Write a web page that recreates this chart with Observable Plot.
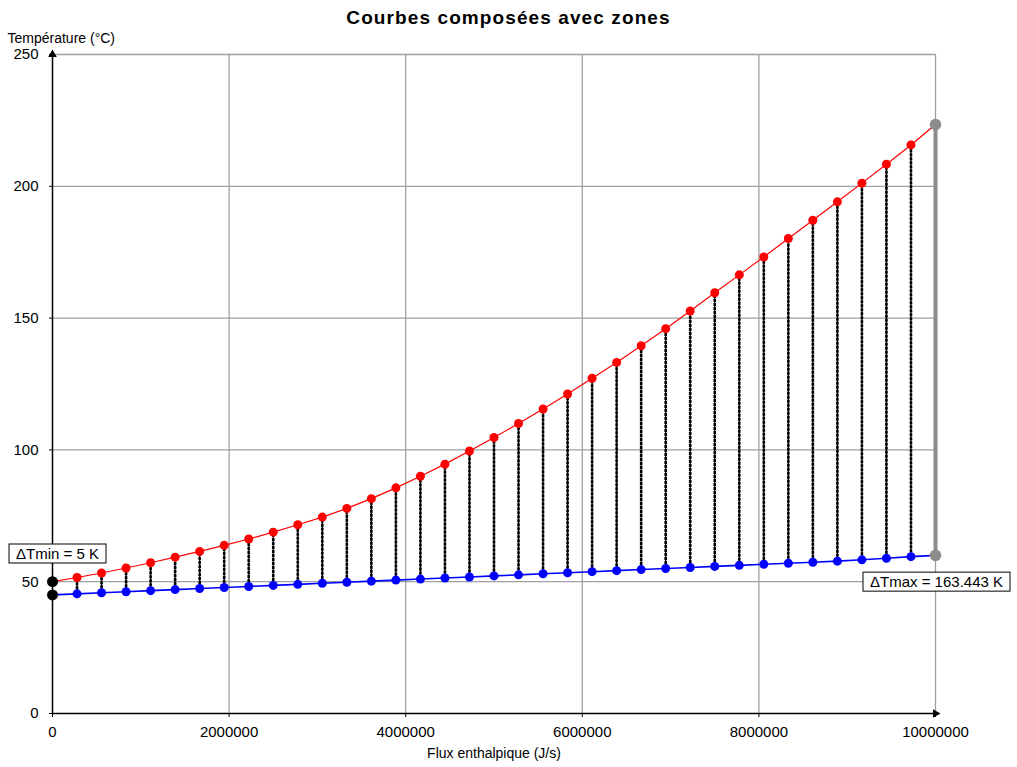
<!DOCTYPE html>
<html>
<head>
<meta charset="utf-8">
<script src="https://cdn.jsdelivr.net/npm/d3@7"></script>
<script src="https://cdn.jsdelivr.net/npm/@observablehq/plot@0.6"></script>
<style>
  html, body { margin: 0; padding: 0; background: #fff; }
  #wrap { width: 1017px; font-family: "Liberation Sans", Arial, sans-serif; }
  #title { position: relative; height: 30px; }
  #title div { position: absolute; top: 8px; left: 0; width: 100%; text-align: center;
    font-weight: bold; font-size: 19px; line-height: 19px; letter-spacing: 1.1px; color: #000; }
</style>
</head>
<body>
<div id="wrap">
  <div id="title"><div>Courbes composées avec zones</div></div>
  <div id="chart"></div>
</div>
<script>
const titleText = "Courbes composées avec zones";
const xLabel = "Flux enthalpique (J/s)";
const yLabel = "Température (°C)";
const xTicks = [0, 2000000, 4000000, 6000000, 8000000, 10000000];
const yTicks = [0, 50, 100, 150, 200, 250];

// Flux enthalpique (J/s) at each node
const flux = [0, 277778, 555556, 833333, 1111111, 1388889, 1666667, 1944444, 2222222,
  2500000, 2777778, 3055556, 3333333, 3611111, 3888889, 4166667, 4444444, 4722222,
  5000000, 5277778, 5555556, 5833333, 6111111, 6388889, 6666667, 6944444, 7222222,
  7500000, 7777778, 8055556, 8333333, 8611111, 8888889, 9166667, 9444444, 9722222, 10000000];

// Hot composite curve (red)
const hot = [50, 51.6, 53.3, 55.2, 57.2, 59.3, 61.5, 63.8, 66.2, 68.8, 71.6, 74.5,
  77.8, 81.5, 85.6, 90.0, 94.6, 99.6, 104.7, 110.0, 115.5, 121.2, 127.2, 133.2,
  139.5, 146.0, 152.7, 159.6, 166.4, 173.2, 180.2, 187.1, 194.1, 201.2, 208.4, 215.7, 223.443];

// Cold composite curve (blue)
const cold = [45.0, 45.4, 45.8, 46.2, 46.6, 47.0, 47.4, 47.8, 48.2, 48.6, 49.0, 49.4,
  49.8, 50.2, 50.6, 51.0, 51.4, 51.8, 52.2, 52.6, 53.0, 53.4, 53.8, 54.2,
  54.6, 55.0, 55.4, 55.8, 56.2, 56.6, 57.0, 57.4, 57.8, 58.3, 58.9, 59.5, 60.0];

const dTminLabel = "ΔTmin = 5 K";
const dTmaxLabel = "ΔTmax = 163.443 K";

const rows = flux.map((f, i) => ({flux: f, hot: hot[i], cold: cold[i]}));
const first = rows[0];
const last = rows[rows.length - 1];
const inner = rows.slice(1, -1);
const xMax = xTicks[xTicks.length - 1];
const yMax = yTicks[yTicks.length - 1];

const font = "Liberation Sans, Arial, sans-serif";

const chart = Plot.plot({
  width: 1017,
  height: 737,
  marginTop: 24,
  marginBottom: 54,
  marginLeft: 52,
  marginRight: 82,
  style: {fontFamily: font, fontSize: "15px", color: "#000", background: "#fff", overflow: "visible"},
  x: {domain: [0, xMax]},
  y: {domain: [0, yMax]},
  marks: [
    // grid
    Plot.ruleY(yTicks.slice(1), {stroke: "#a0a0a0", strokeWidth: 1.3}),
    Plot.ruleX(xTicks.slice(1), {stroke: "#a0a0a0", strokeWidth: 1.3}),
    // axes
    Plot.axisX({ticks: xTicks, tickFormat: d => String(d), tickSize: 4, tickPadding: 9,
      fontSize: 15, label: null, stroke: "#000"}),
    Plot.axisY({ticks: yTicks, tickFormat: d => String(d), tickSize: 3, tickPadding: 11,
      fontSize: 15, label: null}),
    Plot.ruleY([0], {stroke: "#000", strokeWidth: 1.5}),
    Plot.ruleX([0], {stroke: "#000", strokeWidth: 1.5}),
    Plot.dot([{x: 0, y: yMax}], {x: "x", y: "y", symbol: "triangle", r: 3.2, fill: "#000"}),
    Plot.dot([{x: xMax, y: 0}], {x: "x", y: "y", symbol: "triangle", r: 3.2, fill: "#000", rotate: 90}),
    // axis labels
    Plot.text([yLabel], {frameAnchor: "top-left", dx: -45, dy: -16, textAnchor: "start",
      lineAnchor: "middle", fontSize: 14, fill: "#000"}),
    Plot.text([xLabel], {frameAnchor: "bottom", dy: 40, lineAnchor: "middle", fontSize: 14, fill: "#000"}),
    // vertical zone lines
    Plot.ruleX(inner, {x: "flux", y1: "cold", y2: "hot", stroke: "#000", strokeWidth: 1.2}),
    Plot.ruleX(inner, {x: "flux", y1: "cold", y2: "hot", stroke: "#000", strokeWidth: 2.6, strokeDasharray: "3,1"}),
    Plot.ruleX([last], {x: "flux", y1: "cold", y2: "hot", stroke: "#8c8c8c", strokeWidth: 4}),
    // curves
    Plot.line(rows, {x: "flux", y: "hot", stroke: "#ff0000", strokeWidth: 1.2}),
    Plot.line(rows, {x: "flux", y: "cold", stroke: "#0000ff", strokeWidth: 1.6}),
    Plot.dot(inner, {x: "flux", y: "hot", r: 4.5, fill: "#ff0000"}),
    Plot.dot(inner, {x: "flux", y: "cold", r: 4.5, fill: "#0000ff"}),
    Plot.dot([first], {x: "flux", y: "hot", r: 5.5, fill: "#000"}),
    Plot.dot([first], {x: "flux", y: "cold", r: 5.5, fill: "#000"}),
    Plot.dot([last], {x: "flux", y: "hot", r: 5.8, fill: "#8c8c8c"}),
    Plot.dot([last], {x: "flux", y: "cold", r: 5.8, fill: "#8c8c8c"}),
    // annotations
    Plot.text([first], {x: "flux", y: "hot", text: () => dTminLabel, dx: 5, dy: -27.5,
      textAnchor: "middle", lineAnchor: "middle", fontSize: 15, fill: "#000"}),
    Plot.text([last], {x: "flux", y: "cold", text: () => dTmaxLabel, dx: 1, dy: 27,
      textAnchor: "middle", lineAnchor: "middle", fontSize: 15, fill: "#000"})
  ]
});

document.getElementById("chart").appendChild(chart);

// draw boxes behind annotation texts
const boxed = new Set([dTminLabel, dTmaxLabel]);
chart.querySelectorAll("text").forEach(t => {
  if (!boxed.has(t.textContent)) return;
  const b = t.getBBox();
  const r = document.createElementNS("http://www.w3.org/2000/svg", "rect");
  const padX = 7, padY = 1;
  r.setAttribute("x", b.x - padX);
  r.setAttribute("y", b.y - padY);
  r.setAttribute("width", b.width + 2 * padX);
  r.setAttribute("height", b.height + 2 * padY);
  r.setAttribute("fill", "#fff");
  r.setAttribute("stroke", "#000");
  r.setAttribute("stroke-width", "1");
  const tr = t.getAttribute("transform");
  if (tr) r.setAttribute("transform", tr);
  t.parentNode.insertBefore(r, t);
});
</script>
</body>
</html>
